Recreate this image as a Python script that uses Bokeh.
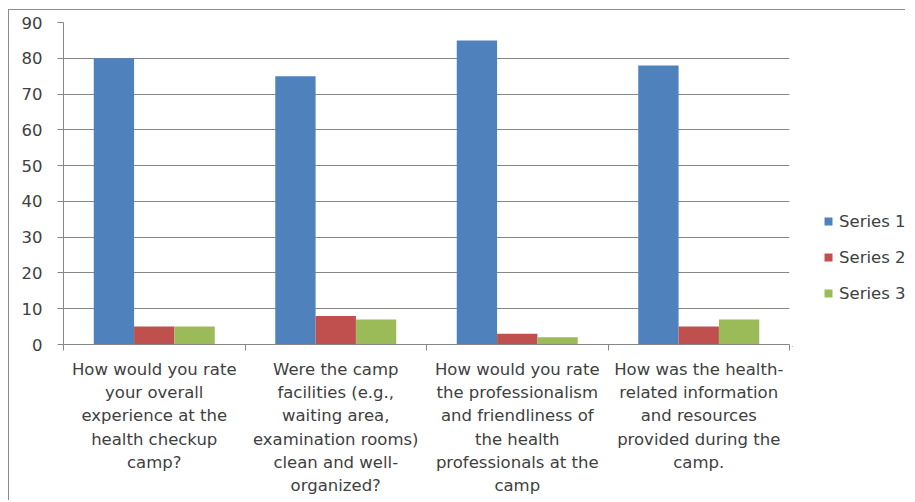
from bokeh.plotting import figure
from bokeh.layouts import row
from bokeh.models import ColumnDataSource, Range1d, FixedTicker, Legend, LegendItem
from bokeh.transform import dodge
from bokeh.embed import file_html
from bokeh.resources import INLINE

categories = [
    "How would you rate\nyour overall\nexperience at the\nhealth checkup\ncamp?",
    "Were the camp\nfacilities (e.g.,\nwaiting area,\nexamination rooms)\nclean and well-\norganized?",
    "How would you rate\nthe professionalism\nand friendliness of\nthe health\nprofessionals at the\ncamp",
    "How was the health-\nrelated information\nand resources\nprovided during the\ncamp.",
]
series_names = ["Series 1", "Series 2", "Series 3"]
series1 = [80, 75, 85, 78]
series2 = [5, 8, 3, 5]
series3 = [5, 7, 2, 7]
y_ticks = [0, 10, 20, 30, 40, 50, 60, 70, 80, 90]
colors = ["#4F81BD", "#C0504D", "#9BBB59"]

FONT = "DejaVu Sans"
FS = "16.5px"
TEXT = "#404040"
GRID = "#878787"

n = len(categories)
centers = [i + 0.5 for i in range(n)]
source = ColumnDataSource(data=dict(x=centers, s1=series1, s2=series2, s3=series3))
cols = ["s1", "s2", "s3"]
bw = 0.2222
offsets = [-bw, 0, bw]

p = figure(
    width=783, height=488,
    x_range=Range1d(0, n), y_range=Range1d(0, 90),
    output_backend="svg", toolbar_location=None,
    min_border_left=54, min_border_top=12, min_border_right=3, min_border_bottom=4,
)
p.outline_line_color = None
p.background_fill_color = "white"
p.border_fill_color = "white"

for col, off, c in zip(cols, offsets, colors):
    p.vbar(x=dodge("x", off, range=p.x_range), top=col, width=bw, source=source, color=c, line_color=None)

# x axis
xa = p.xaxis[0]
xa.ticker = FixedTicker(ticks=centers, minor_ticks=list(range(n + 1)))
xa.major_label_overrides = {c: lab for c, lab in zip(centers, categories)}
xa.major_tick_out = 0
xa.major_tick_in = 0
xa.minor_tick_out = 6
xa.minor_tick_in = 0
xa.minor_tick_line_color = GRID
xa.axis_line_color = GRID
xa.major_label_standoff = 9
xa.major_label_text_font = FONT
xa.major_label_text_font_size = FS
xa.major_label_text_color = TEXT
xa.major_label_text_line_height = 1.23
xa.major_label_orientation = "horizontal"

# y axis
ya = p.yaxis[0]
ya.ticker = FixedTicker(ticks=y_ticks)
ya.major_tick_out = 6
ya.major_tick_in = 0
ya.minor_tick_line_color = None
ya.major_tick_line_color = GRID
ya.axis_line_color = GRID
ya.major_label_standoff = 15
ya.major_label_text_font = FONT
ya.major_label_text_font_size = FS
ya.major_label_text_color = TEXT

p.xgrid.grid_line_color = None
p.ygrid.ticker = FixedTicker(ticks=y_ticks)
p.ygrid.grid_line_color = GRID
p.ygrid.grid_line_width = 1

# legend panel: same series as zero-height bars outside this panel's visible range
pl = figure(
    width=113, height=490, x_range=Range1d(10, 11), y_range=Range1d(90, 180),
    x_axis_location=None, y_axis_location=None,
    output_backend="svg", toolbar_location=None, min_border=0,
)
pl.outline_line_color = None
pl.grid.grid_line_color = None
pl.background_fill_color = "white"
pl.border_fill_color = "white"
legend_renderers = [
    pl.vbar(x=dodge("x", off, range=pl.x_range), top=col, bottom=col, width=bw, source=source,
            color=c, line_color=None)
    for col, off, c in zip(cols, offsets, colors)
]

legend = Legend(
    items=[LegendItem(label=name, renderers=[r]) for name, r in zip(series_names, legend_renderers)],
    location=(31, 43),
    glyph_width=10, glyph_height=10,
    label_height=20, spacing=16, padding=10, label_standoff=6, margin=0,
    label_text_font=FONT, label_text_font_size=FS, label_text_color=TEXT,
    border_line_color=None, background_fill_alpha=0,
)
pl.add_layout(legend, "center")

layout = row(p, pl, styles={"border-left": "1px solid #8c8c8c", "border-top": "1px solid #8c8c8c",
                            "margin-top": "9px", "margin-left": "8px"})

open("out.html", "w").write(file_html(layout, INLINE))
